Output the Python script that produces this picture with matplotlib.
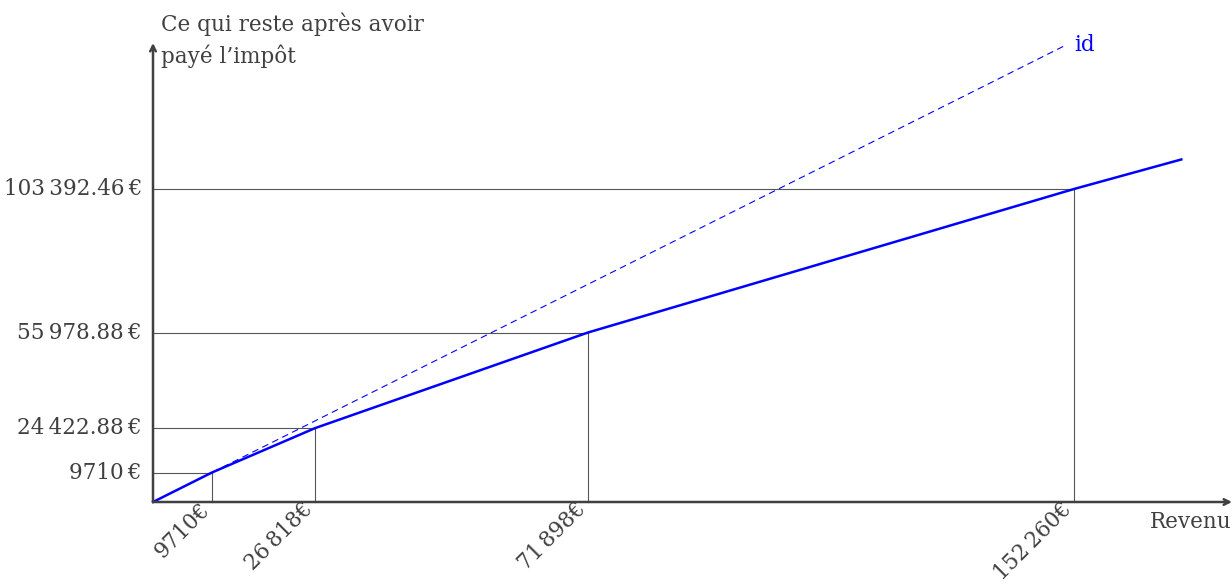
import matplotlib.pyplot as plt

# revenu et ce qui reste apres impot (points de la courbe)
revenu = [0, 9710, 26818, 71898, 152260, 170000]
reste = [0, 9710, 24422.88, 55978.88, 103392.46, 113150]

# points reperes (traits gris + etiquettes)
x_marks = [9710, 26818, 71898, 152260]
y_marks = [9710, 24422.88, 55978.88, 103392.46]
x_labels = ['9710€', '26\u2009818€', '71\u2009898€', '152\u2009260€']
y_labels = ['9710\u2009€', '24\u2009422.88\u2009€', '55\u2009978.88\u2009€', '103\u2009392.46\u2009€']

id_end = 151000

W, H = 1232, 585
fig = plt.figure(figsize=(W / 100, H / 100), dpi=100)
ax = fig.add_axes([0, 0, 1, 1])
ax.axis('off')

# echelle pixel -> donnees
x0_px, y0_px = 153, 502
sx = 921 / 152260
sy = 313 / 103392.46
ax.set_xlim(-x0_px / sx, (W - x0_px) / sx)
ax.set_ylim(-(H - y0_px) / sy, y0_px / sy)

dark = '#404040'
plt.rcParams['font.family'] = 'DejaVu Serif'
fs = 15.5

# traits gris
for xm, ym in zip(x_marks, y_marks):
    ax.plot([0, xm], [ym, ym], color='#555555', lw=0.8, zorder=1)
    ax.plot([xm, xm], [0, ym], color='#555555', lw=0.8, zorder=1)

# bissectrice
ax.plot([0, id_end], [0, id_end], color='blue', lw=0.8, dashes=(6, 4), zorder=2)
ax.text(id_end + 1300, id_end, 'id', color='blue', fontsize=fs, ha='left', va='center')

# courbe
ax.plot(revenu, reste, color='blue', lw=1.8, zorder=3)

# axes avec fleches
xmax = (W - x0_px) / sx
ymax = (y0_px - 43) / sy
ax.annotate('', xy=(xmax, 0), xytext=(0, 0),
            arrowprops=dict(arrowstyle='->', color=dark, lw=1.8, shrinkA=0, shrinkB=0))
ax.annotate('', xy=(0, ymax), xytext=(0, 0),
            arrowprops=dict(arrowstyle='->', color=dark, lw=1.8, shrinkA=0, shrinkB=0))

# etiquettes
for xm, lab in zip(x_marks, x_labels):
    ax.annotate(lab, xy=(xm, 0), xytext=(-9.5, 2.5), textcoords='offset points',
                rotation=45, rotation_mode='anchor', ha='right', va='top',
                fontsize=fs, color=dark)
for ym, lab in zip(y_marks, y_labels):
    ax.annotate(lab, xy=(0, ym), xytext=(-8, 0), textcoords='offset points',
                ha='right', va='center', fontsize=fs, color=dark)

ax.text((1150 - x0_px) / sx, (y0_px - 522) / sy, 'Revenu', fontsize=fs,
        color=dark, ha='left', va='center')
ax.text((161 - x0_px) / sx, (y0_px - 12) / sy, 'Ce qui reste après avoir\npayé l’impôt',
        fontsize=fs, color=dark, ha='left', va='top', linespacing=1.5)

fig.savefig('out.png', dpi=100)
